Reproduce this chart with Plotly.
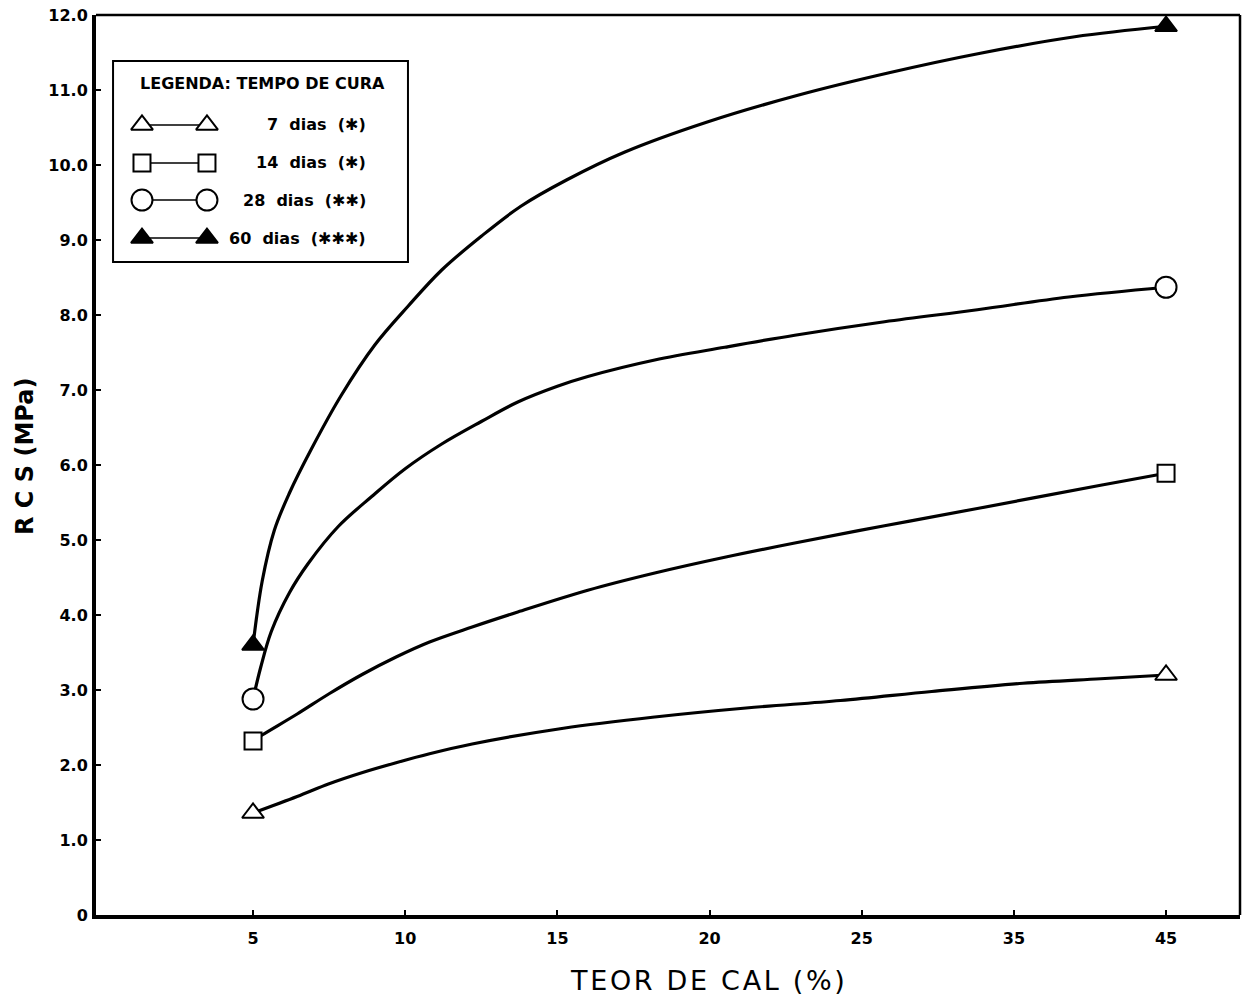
import numpy as np
import plotly.graph_objects as go

# Lime content (%) of the tested mixes
LIME_TESTED = [5, 45]

# Unconfined compressive strength, RCS (MPa), per curing time
RCS_7 = [1.36, 3.20]
RCS_14 = [2.32, 5.89]
RCS_28 = [2.88, 8.37]
RCS_60 = [3.60, 11.85]

# Trend curves drawn through the results (lime %, RCS MPa)
CURVE_7_X = [5, 6.45, 7.5, 8.6, 9.7, 10.8, 12.2, 15.2, 18.2, 21.2, 24.3, 29.6, 35.6, 40.7, 45]
CURVE_7_Y = [1.36, 1.58, 1.75, 1.90, 2.03, 2.15, 2.28, 2.49, 2.64, 2.76, 2.86, 2.98, 3.09, 3.15, 3.20]

CURVE_14_X = [5, 5.3, 6.45, 7.5, 8.6, 9.7, 10.8, 12.2, 13.7, 16.0, 18.2, 20.5, 22.8, 26.5, 32.6, 40.7, 45]
CURVE_14_Y = [2.32, 2.40, 2.68, 2.95, 3.21, 3.44, 3.64, 3.84, 4.04, 4.33, 4.56, 4.77, 4.96, 5.19, 5.42, 5.73, 5.89]

CURVE_28_X = [5, 5.25, 5.6, 6.2, 6.8, 7.8, 8.9, 10.0, 11.2, 12.5, 13.7, 15.0, 16.0, 18.2, 20.5, 22.8, 26.5, 32.6, 38.6, 45]
CURVE_28_Y = [2.88, 3.30, 3.78, 4.30, 4.68, 5.18, 5.58, 5.95, 6.28, 6.58, 6.84, 7.05, 7.18, 7.40, 7.57, 7.73, 7.91, 8.07, 8.24, 8.37]

CURVE_60_X = [5, 5.3, 5.7, 6.2, 6.9, 7.9, 9.0, 10.1, 11.2, 12.5, 13.8, 15.3, 17.2, 19.9, 22.9, 26.8, 32.8, 39.0, 45]
CURVE_60_Y = [3.60, 4.45, 5.13, 5.63, 6.20, 6.93, 7.60, 8.12, 8.60, 9.05, 9.45, 9.80, 10.17, 10.57, 10.93, 11.23, 11.49, 11.71, 11.85]

# Axis ticks
X_TICKS = [5, 10, 15, 20, 25, 35, 45]
Y_TICKS = list(range(13))
Y_TICK_TEXT = ["0"] + [f"{v:.1f}" for v in Y_TICKS[1:]]

# The lime axis is linear up to 25 % and compressed by half beyond it
SCALE_REAL = [0, 25, 45]
SCALE_POS = [0, 25, 35]


def to_axis(values):
    return np.interp(values, SCALE_REAL, SCALE_POS)


def spaced(text, gap="\u200a"):
    """Open up the lettering slightly, as on stencil-lettered drawings."""
    return gap.join(text)


SERIES = [
    ("7\u00a0 dias\u00a0 (✱)", CURVE_7_X, CURVE_7_Y, RCS_7, "triangle-up", "white", 19),
    ("14\u00a0 dias\u00a0 (✱)", CURVE_14_X, CURVE_14_Y, RCS_14, "square", "white", 17),
    ("28\u00a0 dias\u00a0 (✱✱)", CURVE_28_X, CURVE_28_Y, RCS_28, "circle", "white", 21),
    ("60\u00a0 dias\u00a0 (✱✱✱)", CURVE_60_X, CURVE_60_Y, RCS_60, "triangle-up", "black", 19),
]

FONT = "DejaVu Sans"
fig = go.Figure()

for name, cx, cy, pts, sym, fill, size in SERIES:
    fig.add_trace(go.Scatter(
        x=to_axis(cx), y=cy, mode="lines",
        line=dict(color="black", width=3.2, shape="spline", smoothing=1.0),
        hoverinfo="skip", showlegend=False,
    ))
for name, cx, cy, pts, sym, fill, size in SERIES:
    fig.add_trace(go.Scatter(
        x=to_axis(LIME_TESTED), y=pts, mode="markers", name=name,
        marker=dict(symbol=sym, size=size, color=fill,
                    line=dict(color="black", width=2)),
        showlegend=False,
    ))

# Legend key, drawn in a unit overlay of the plotting area
row_y = [0.8778, 0.8356, 0.7944, 0.7522]
for (name, cx, cy, pts, sym, fill, size), ry in zip(SERIES, row_y):
    fig.add_trace(go.Scatter(
        x=[0.0402, 0.0970], y=[ry, ry], mode="lines+markers",
        xaxis="x2", yaxis="y2",
        line=dict(color="black", width=1.6),
        marker=dict(symbol=sym, size=size, color=fill,
                    line=dict(color="black", width=2)),
        hoverinfo="skip", showlegend=False,
    ))

annotations = [
    dict(text="LEGENDA: TEMPO DE CURA", x=0.1455, y=0.9244,
         xref="paper", yref="paper", xanchor="center", yanchor="middle",
         showarrow=False,
         font=dict(family=FONT, size=16, color="black", weight="bold")),
]
for (name, *_), ry in zip(SERIES, row_y):
    annotations.append(dict(
        text=name, x=0.2378, y=ry, xref="paper", yref="paper",
        xanchor="right", yanchor="middle", showarrow=False,
        font=dict(family=FONT, size=16, color="black", weight="bold")))

# Axis titles
annotations.append(dict(
    text=spaced("TEOR DE CAL (%)"), x=(707 - 96) / 1144, y=-(981 - 915) / 900,
    xref="paper", yref="paper", xanchor="center", yanchor="middle",
    showarrow=False,
    font=dict(family=FONT, size=27, color="black")))
annotations.append(dict(
    text="R C S (MPa)", x=-(96 - 25) / 1144, y=(915 - 457) / 900,
    xref="paper", yref="paper", xanchor="center", yanchor="middle",
    showarrow=False, textangle=-90,
    font=dict(family=FONT, size=24, color="black", weight="bold")))

shapes = [
    # legend box
    dict(type="rect", xref="paper", yref="paper",
         x0=0.0149, x1=0.2727, y0=0.7256, y1=0.9489,
         line=dict(color="black", width=2), fillcolor="rgba(0,0,0,0)", layer="below"),
    # upper and right frame
    dict(type="line", xref="paper", yref="paper", x0=0, x1=1, y0=1, y1=1,
         line=dict(color="black", width=2.5)),
    dict(type="line", xref="paper", yref="paper", x0=1, x1=1, y0=0, y1=1,
         line=dict(color="black", width=2.5)),
]

tick_font = dict(family=FONT, size=16, color="black", weight="bold")
fig.update_layout(
    width=1245, height=1000,
    margin=dict(l=96, r=5, t=15, b=85),
    paper_bgcolor="white", plot_bgcolor="white",
    showlegend=False,
    xaxis=dict(
        range=[-0.16, 37.43], tickvals=to_axis(X_TICKS),
        ticktext=[str(v) for v in X_TICKS],
        showline=True, linewidth=4, linecolor="black",
        ticks="inside", ticklen=5, tickwidth=2, tickcolor="black",
        showgrid=False, zeroline=False, tickfont=tick_font,
        ticklabelstandoff=6,
    ),
    yaxis=dict(
        range=[0, 12], tickvals=Y_TICKS, ticktext=Y_TICK_TEXT,
        showline=True, linewidth=4, linecolor="black",
        ticks="inside", ticklen=5, tickwidth=2, tickcolor="black",
        showgrid=False, zeroline=False, tickfont=tick_font,
        ticklabelstandoff=1,
    ),
    xaxis2=dict(domain=[0, 1], range=[0, 1], visible=False,
                anchor="y2", overlaying="x"),
    yaxis2=dict(domain=[0, 1], range=[0, 1], visible=False,
                anchor="x2", overlaying="y"),
    annotations=annotations,
    shapes=shapes,
)

fig.write_html("out.html")
